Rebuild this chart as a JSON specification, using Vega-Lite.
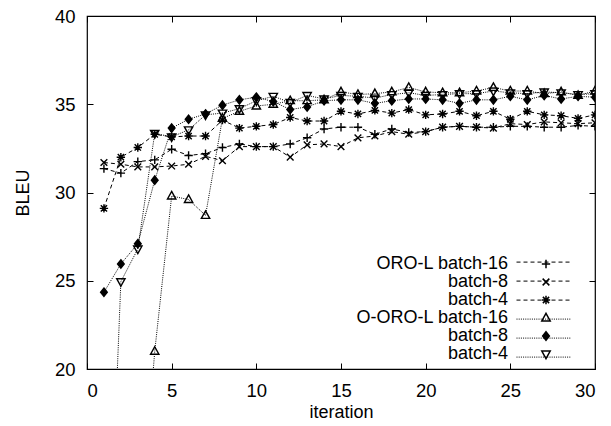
{
  "$schema": "https://vega.github.io/schema/vega-lite/v6.json",
  "width": 508,
  "height": 353,
  "autosize": {"type": "none"},
  "padding": {"left": 87, "top": 16, "right": 16, "bottom": 57},
  "background": "white",
  "config": {
    "view": {"stroke": "black", "strokeWidth": 1.2},
    "font": "Liberation Sans",
    "axis": {"grid": false, "domain": false, "tickColor": "black", "tickSize": -6, "tickWidth": 1, "labelFont": "Liberation Sans", "labelFontSize": 18.5, "labelColor": "black", "titleFont": "Liberation Sans", "titleFontSize": 18, "titleFontWeight": "normal", "titleColor": "black"}
  },
  "datasets": {
    "pts": [
      {"it":1,"bleu":31.35,"series":"ORO-L batch-16","line":"d1"},{"it":2,"bleu":31.1,"series":"ORO-L batch-16","line":"d1"},{"it":3,"bleu":31.75,"series":"ORO-L batch-16","line":"d1"},{"it":4,"bleu":31.85,"series":"ORO-L batch-16","line":"d1"},{"it":5,"bleu":32.45,"series":"ORO-L batch-16","line":"d1"},{"it":6,"bleu":32.1,"series":"ORO-L batch-16","line":"d1"},{"it":7,"bleu":32.2,"series":"ORO-L batch-16","line":"d1"},{"it":8,"bleu":32.55,"series":"ORO-L batch-16","line":"d1"},{"it":9,"bleu":32.75,"series":"ORO-L batch-16","line":"d1"},{"it":10,"bleu":32.6,"series":"ORO-L batch-16","line":"d1"},{"it":11,"bleu":32.6,"series":"ORO-L batch-16","line":"d1"},{"it":12,"bleu":32.75,"series":"ORO-L batch-16","line":"d1"},{"it":13,"bleu":33.1,"series":"ORO-L batch-16","line":"d1"},{"it":14,"bleu":33.6,"series":"ORO-L batch-16","line":"d1"},{"it":15,"bleu":33.7,"series":"ORO-L batch-16","line":"d1"},{"it":16,"bleu":33.7,"series":"ORO-L batch-16","line":"d1"},{"it":17,"bleu":33.3,"series":"ORO-L batch-16","line":"d1"},{"it":18,"bleu":33.6,"series":"ORO-L batch-16","line":"d1"},{"it":19,"bleu":33.4,"series":"ORO-L batch-16","line":"d1"},{"it":20,"bleu":33.45,"series":"ORO-L batch-16","line":"d1"},{"it":21,"bleu":33.7,"series":"ORO-L batch-16","line":"d1"},{"it":22,"bleu":33.75,"series":"ORO-L batch-16","line":"d1"},{"it":23,"bleu":33.7,"series":"ORO-L batch-16","line":"d1"},{"it":24,"bleu":33.7,"series":"ORO-L batch-16","line":"d1"},{"it":25,"bleu":33.75,"series":"ORO-L batch-16","line":"d1"},{"it":26,"bleu":33.75,"series":"ORO-L batch-16","line":"d1"},{"it":27,"bleu":33.7,"series":"ORO-L batch-16","line":"d1"},{"it":28,"bleu":33.7,"series":"ORO-L batch-16","line":"d1"},{"it":29,"bleu":33.8,"series":"ORO-L batch-16","line":"d1"},{"it":30,"bleu":33.75,"series":"ORO-L batch-16","line":"d1"},
      {"it":1,"bleu":31.7,"series":"ORO-L batch-8","line":"d2"},{"it":2,"bleu":31.6,"series":"ORO-L batch-8","line":"d2"},{"it":3,"bleu":31.45,"series":"ORO-L batch-8","line":"d2"},{"it":4,"bleu":31.45,"series":"ORO-L batch-8","line":"d2"},{"it":5,"bleu":31.5,"series":"ORO-L batch-8","line":"d2"},{"it":6,"bleu":31.6,"series":"ORO-L batch-8","line":"d2"},{"it":7,"bleu":32.05,"series":"ORO-L batch-8","line":"d2"},{"it":8,"bleu":31.8,"series":"ORO-L batch-8","line":"d2"},{"it":9,"bleu":32.6,"series":"ORO-L batch-8","line":"d2"},{"it":10,"bleu":32.6,"series":"ORO-L batch-8","line":"d2"},{"it":11,"bleu":32.6,"series":"ORO-L batch-8","line":"d2"},{"it":12,"bleu":32.0,"series":"ORO-L batch-8","line":"d2"},{"it":13,"bleu":32.7,"series":"ORO-L batch-8","line":"d2"},{"it":14,"bleu":32.75,"series":"ORO-L batch-8","line":"d2"},{"it":15,"bleu":32.6,"series":"ORO-L batch-8","line":"d2"},{"it":16,"bleu":33.1,"series":"ORO-L batch-8","line":"d2"},{"it":17,"bleu":33.2,"series":"ORO-L batch-8","line":"d2"},{"it":18,"bleu":33.45,"series":"ORO-L batch-8","line":"d2"},{"it":19,"bleu":33.3,"series":"ORO-L batch-8","line":"d2"},{"it":20,"bleu":33.45,"series":"ORO-L batch-8","line":"d2"},{"it":21,"bleu":33.7,"series":"ORO-L batch-8","line":"d2"},{"it":22,"bleu":33.75,"series":"ORO-L batch-8","line":"d2"},{"it":23,"bleu":33.7,"series":"ORO-L batch-8","line":"d2"},{"it":24,"bleu":33.65,"series":"ORO-L batch-8","line":"d2"},{"it":25,"bleu":33.9,"series":"ORO-L batch-8","line":"d2"},{"it":26,"bleu":33.85,"series":"ORO-L batch-8","line":"d2"},{"it":27,"bleu":34.0,"series":"ORO-L batch-8","line":"d2"},{"it":28,"bleu":33.95,"series":"ORO-L batch-8","line":"d2"},{"it":29,"bleu":33.9,"series":"ORO-L batch-8","line":"d2"},{"it":30,"bleu":33.95,"series":"ORO-L batch-8","line":"d2"},
      {"it":1,"bleu":29.1,"series":"ORO-L batch-4","line":"d3"},{"it":2,"bleu":32.0,"series":"ORO-L batch-4","line":"d3"},{"it":3,"bleu":32.55,"series":"ORO-L batch-4","line":"d3"},{"it":4,"bleu":33.3,"series":"ORO-L batch-4","line":"d3"},{"it":5,"bleu":33.15,"series":"ORO-L batch-4","line":"d3"},{"it":6,"bleu":33.2,"series":"ORO-L batch-4","line":"d3"},{"it":7,"bleu":33.2,"series":"ORO-L batch-4","line":"d3"},{"it":8,"bleu":34.1,"series":"ORO-L batch-4","line":"d3"},{"it":9,"bleu":33.65,"series":"ORO-L batch-4","line":"d3"},{"it":10,"bleu":33.75,"series":"ORO-L batch-4","line":"d3"},{"it":11,"bleu":33.85,"series":"ORO-L batch-4","line":"d3"},{"it":12,"bleu":34.25,"series":"ORO-L batch-4","line":"d3"},{"it":13,"bleu":34.05,"series":"ORO-L batch-4","line":"d3"},{"it":14,"bleu":34.05,"series":"ORO-L batch-4","line":"d3"},{"it":15,"bleu":34.6,"series":"ORO-L batch-4","line":"d3"},{"it":16,"bleu":34.45,"series":"ORO-L batch-4","line":"d3"},{"it":17,"bleu":34.65,"series":"ORO-L batch-4","line":"d3"},{"it":18,"bleu":34.5,"series":"ORO-L batch-4","line":"d3"},{"it":19,"bleu":34.7,"series":"ORO-L batch-4","line":"d3"},{"it":20,"bleu":34.4,"series":"ORO-L batch-4","line":"d3"},{"it":21,"bleu":34.45,"series":"ORO-L batch-4","line":"d3"},{"it":22,"bleu":34.6,"series":"ORO-L batch-4","line":"d3"},{"it":23,"bleu":34.35,"series":"ORO-L batch-4","line":"d3"},{"it":24,"bleu":34.6,"series":"ORO-L batch-4","line":"d3"},{"it":25,"bleu":34.15,"series":"ORO-L batch-4","line":"d3"},{"it":26,"bleu":34.6,"series":"ORO-L batch-4","line":"d3"},{"it":27,"bleu":34.4,"series":"ORO-L batch-4","line":"d3"},{"it":28,"bleu":34.35,"series":"ORO-L batch-4","line":"d3"},{"it":29,"bleu":34.2,"series":"ORO-L batch-4","line":"d3"},{"it":30,"bleu":34.4,"series":"ORO-L batch-4","line":"d3"},
      {"it":3,"bleu":9.0,"series":"O-ORO-L batch-16","line":"d4"},{"it":4,"bleu":21.0,"series":"O-ORO-L batch-16","line":"d4"},{"it":5,"bleu":29.8,"series":"O-ORO-L batch-16","line":"d4"},{"it":6,"bleu":29.6,"series":"O-ORO-L batch-16","line":"d4"},{"it":7,"bleu":28.7,"series":"O-ORO-L batch-16","line":"d4"},{"it":8,"bleu":34.2,"series":"O-ORO-L batch-16","line":"d4"},{"it":9,"bleu":34.6,"series":"O-ORO-L batch-16","line":"d4"},{"it":10,"bleu":34.9,"series":"O-ORO-L batch-16","line":"d4"},{"it":11,"bleu":35.0,"series":"O-ORO-L batch-16","line":"d4"},{"it":12,"bleu":35.2,"series":"O-ORO-L batch-16","line":"d4"},{"it":13,"bleu":35.2,"series":"O-ORO-L batch-16","line":"d4"},{"it":14,"bleu":35.25,"series":"O-ORO-L batch-16","line":"d4"},{"it":15,"bleu":35.7,"series":"O-ORO-L batch-16","line":"d4"},{"it":16,"bleu":35.55,"series":"O-ORO-L batch-16","line":"d4"},{"it":17,"bleu":35.6,"series":"O-ORO-L batch-16","line":"d4"},{"it":18,"bleu":35.7,"series":"O-ORO-L batch-16","line":"d4"},{"it":19,"bleu":35.95,"series":"O-ORO-L batch-16","line":"d4"},{"it":20,"bleu":35.7,"series":"O-ORO-L batch-16","line":"d4"},{"it":21,"bleu":35.65,"series":"O-ORO-L batch-16","line":"d4"},{"it":22,"bleu":35.65,"series":"O-ORO-L batch-16","line":"d4"},{"it":23,"bleu":35.75,"series":"O-ORO-L batch-16","line":"d4"},{"it":24,"bleu":35.95,"series":"O-ORO-L batch-16","line":"d4"},{"it":25,"bleu":35.75,"series":"O-ORO-L batch-16","line":"d4"},{"it":26,"bleu":35.75,"series":"O-ORO-L batch-16","line":"d4"},{"it":27,"bleu":35.6,"series":"O-ORO-L batch-16","line":"d4"},{"it":28,"bleu":35.7,"series":"O-ORO-L batch-16","line":"d4"},{"it":29,"bleu":35.5,"series":"O-ORO-L batch-16","line":"d4"},{"it":30,"bleu":35.75,"series":"O-ORO-L batch-16","line":"d4"},
      {"it":1,"bleu":24.35,"series":"O-ORO-L batch-8","line":"d5"},{"it":2,"bleu":25.95,"series":"O-ORO-L batch-8","line":"d5"},{"it":3,"bleu":27.1,"series":"O-ORO-L batch-8","line":"d5"},{"it":4,"bleu":30.7,"series":"O-ORO-L batch-8","line":"d5"},{"it":5,"bleu":33.65,"series":"O-ORO-L batch-8","line":"d5"},{"it":6,"bleu":34.15,"series":"O-ORO-L batch-8","line":"d5"},{"it":7,"bleu":34.45,"series":"O-ORO-L batch-8","line":"d5"},{"it":8,"bleu":34.95,"series":"O-ORO-L batch-8","line":"d5"},{"it":9,"bleu":35.25,"series":"O-ORO-L batch-8","line":"d5"},{"it":10,"bleu":35.4,"series":"O-ORO-L batch-8","line":"d5"},{"it":11,"bleu":35.15,"series":"O-ORO-L batch-8","line":"d5"},{"it":12,"bleu":34.7,"series":"O-ORO-L batch-8","line":"d5"},{"it":13,"bleu":34.85,"series":"O-ORO-L batch-8","line":"d5"},{"it":14,"bleu":35.2,"series":"O-ORO-L batch-8","line":"d5"},{"it":15,"bleu":35.25,"series":"O-ORO-L batch-8","line":"d5"},{"it":16,"bleu":35.25,"series":"O-ORO-L batch-8","line":"d5"},{"it":17,"bleu":35.05,"series":"O-ORO-L batch-8","line":"d5"},{"it":18,"bleu":35.2,"series":"O-ORO-L batch-8","line":"d5"},{"it":19,"bleu":35.3,"series":"O-ORO-L batch-8","line":"d5"},{"it":20,"bleu":35.3,"series":"O-ORO-L batch-8","line":"d5"},{"it":21,"bleu":35.25,"series":"O-ORO-L batch-8","line":"d5"},{"it":22,"bleu":35.05,"series":"O-ORO-L batch-8","line":"d5"},{"it":23,"bleu":35.25,"series":"O-ORO-L batch-8","line":"d5"},{"it":24,"bleu":35.25,"series":"O-ORO-L batch-8","line":"d5"},{"it":25,"bleu":35.45,"series":"O-ORO-L batch-8","line":"d5"},{"it":26,"bleu":35.25,"series":"O-ORO-L batch-8","line":"d5"},{"it":27,"bleu":35.5,"series":"O-ORO-L batch-8","line":"d5"},{"it":28,"bleu":35.3,"series":"O-ORO-L batch-8","line":"d5"},{"it":29,"bleu":35.45,"series":"O-ORO-L batch-8","line":"d5"},{"it":30,"bleu":35.4,"series":"O-ORO-L batch-8","line":"d5"},
      {"it":1,"bleu":1.0,"series":"O-ORO-L batch-4","line":"d6"},{"it":2,"bleu":24.95,"series":"O-ORO-L batch-4","line":"d6"},{"it":3,"bleu":26.8,"series":"O-ORO-L batch-4","line":"d6"},{"it":4,"bleu":33.35,"series":"O-ORO-L batch-4","line":"d6"},{"it":5,"bleu":33.15,"series":"O-ORO-L batch-4","line":"d6"},{"it":6,"bleu":33.55,"series":"O-ORO-L batch-4","line":"d6"},{"it":7,"bleu":34.4,"series":"O-ORO-L batch-4","line":"d6"},{"it":8,"bleu":34.5,"series":"O-ORO-L batch-4","line":"d6"},{"it":9,"bleu":34.75,"series":"O-ORO-L batch-4","line":"d6"},{"it":10,"bleu":35.2,"series":"O-ORO-L batch-4","line":"d6"},{"it":11,"bleu":35.45,"series":"O-ORO-L batch-4","line":"d6"},{"it":12,"bleu":35.1,"series":"O-ORO-L batch-4","line":"d6"},{"it":13,"bleu":35.5,"series":"O-ORO-L batch-4","line":"d6"},{"it":14,"bleu":35.3,"series":"O-ORO-L batch-4","line":"d6"},{"it":15,"bleu":35.5,"series":"O-ORO-L batch-4","line":"d6"},{"it":16,"bleu":35.45,"series":"O-ORO-L batch-4","line":"d6"},{"it":17,"bleu":35.35,"series":"O-ORO-L batch-4","line":"d6"},{"it":18,"bleu":35.55,"series":"O-ORO-L batch-4","line":"d6"},{"it":19,"bleu":35.65,"series":"O-ORO-L batch-4","line":"d6"},{"it":20,"bleu":35.5,"series":"O-ORO-L batch-4","line":"d6"},{"it":21,"bleu":35.55,"series":"O-ORO-L batch-4","line":"d6"},{"it":22,"bleu":35.6,"series":"O-ORO-L batch-4","line":"d6"},{"it":23,"bleu":35.6,"series":"O-ORO-L batch-4","line":"d6"},{"it":24,"bleu":35.75,"series":"O-ORO-L batch-4","line":"d6"},{"it":25,"bleu":35.65,"series":"O-ORO-L batch-4","line":"d6"},{"it":26,"bleu":35.6,"series":"O-ORO-L batch-4","line":"d6"},{"it":27,"bleu":35.7,"series":"O-ORO-L batch-4","line":"d6"},{"it":28,"bleu":35.65,"series":"O-ORO-L batch-4","line":"d6"},{"it":29,"bleu":35.55,"series":"O-ORO-L batch-4","line":"d6"},{"it":30,"bleu":35.6,"series":"O-ORO-L batch-4","line":"d6"}
    ]
  },
  "data": {"name": "pts"},
  "resolve": {"axis": {"x": "independent", "y": "independent"}},
  "layer": [
    {
      "mark": {"type": "line", "clip": true, "stroke": "black", "strokeWidth": 1},
      "encoding": {
        "x": {"field": "it", "type": "quantitative", "scale": {"domain": [0, 30], "nice": false, "zero": false},
              "axis": {"orient": "bottom", "values": [0, 5, 10, 15, 20, 25, 30], "title": "iteration", "labelPadding": 18, "titlePadding": 4}},
        "y": {"field": "bleu", "type": "quantitative", "scale": {"domain": [20, 40], "nice": false, "zero": false},
              "axis": {"orient": "left", "values": [20, 25, 30, 35, 40], "title": "BLEU", "labelPadding": 18, "titlePadding": 22}},
        "strokeDash": {"field": "line", "type": "nominal",
          "scale": {"domain": ["d1", "d2", "d3", "d4", "d5", "d6"], "range": [[4, 3], [4, 3], [4, 3], [1, 1.2], [1, 1.2], [1, 1.2]]},
          "legend": {"orient": "none", "legendX": 429, "legendY": 237, "title": null, "padding": 0, "symbolType": "stroke", "symbolSize": 3025, "symbolStrokeColor": "black", "symbolStrokeWidth": 1, "labelExpr": "''", "labelFontSize": 18, "clipHeight": 18.2, "rowPadding": 0}}
      }
    },
    {
      "mark": {"type": "point", "clip": true, "stroke": "black", "strokeWidth": 1.4, "size": 70, "opacity": 1},
      "encoding": {
        "x": {"field": "it", "type": "quantitative", "axis": {"orient": "top", "values": [0, 5, 10, 15, 20, 25, 30], "labels": false, "title": null}},
        "y": {"field": "bleu", "type": "quantitative", "axis": {"orient": "right", "values": [20, 25, 30, 35, 40], "labels": false, "title": null}},
        "shape": {"field": "series", "type": "nominal",
          "scale": {"domain": ["ORO-L batch-16", "ORO-L batch-8", "ORO-L batch-4", "O-ORO-L batch-16", "O-ORO-L batch-8", "O-ORO-L batch-4"],
                    "range": ["M-1,0L1,0M0,-1L0,1", "M-0.8,-0.8L0.8,0.8M-0.8,0.8L0.8,-0.8", "M-1,0L1,0M0,-1L0,1M-0.75,-0.75L0.75,0.75M-0.75,0.75L0.75,-0.75", "M0,-1.1L1,0.7L-1,0.7Z", "M0,-1L0.8,0L0,1L-0.8,0Z", "M0,1.1L1,-0.7L-1,-0.7Z"]},
          "legend": {"orient": "none", "legendX": 450, "legendY": 239, "title": null, "padding": 0, "labelFontSize": 18, "labelFont": "Liberation Sans", "labelColor": "black", "labelAlign": "right", "labelOffset": -47, "rowPadding": 0, "symbolSize": 70,
                     "labelExpr": "datum.label == 'ORO-L batch-16' || datum.label == 'O-ORO-L batch-16' ? datum.label : slice(datum.label, indexof(datum.label, 'batch'))",
                     "encode": {"symbols": {"update": {"stroke": {"value": "black"}, "strokeWidth": {"value": 1.4}, "opacity": {"value": 1}}}}}},
        "fill": {"field": "series", "type": "nominal",
          "scale": {"domain": ["ORO-L batch-16", "ORO-L batch-8", "ORO-L batch-4", "O-ORO-L batch-16", "O-ORO-L batch-8", "O-ORO-L batch-4"],
                    "range": ["transparent", "transparent", "transparent", "transparent", "black", "transparent"]}}
      }
    }
  ]
}
